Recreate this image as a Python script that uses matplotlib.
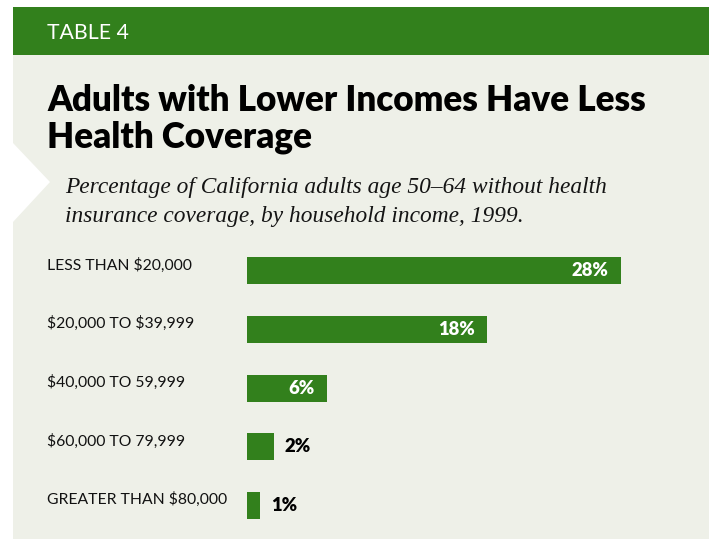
import matplotlib
matplotlib.use('Agg')
import matplotlib.pyplot as plt
from matplotlib.patches import Polygon, Rectangle
from matplotlib.transforms import blended_transform_factory

plt.rcParams['text.parse_math'] = False  # labels contain plain dollar signs

# data
categories = ['LESS THAN $20,000', '$20,000 TO $39,999', '$40,000 TO 59,999',
              '$60,000 TO 79,999', 'GREATER THAN $80,000']
values = [28, 18, 6, 2, 1]
value_labels = ['28%', '18%', '6%', '2%', '1%']

header_text = 'TABLE 4'
title_lines = ['Adults with Lower Incomes Have Less', 'Health Coverage']
subtitle_lines = ['Percentage of California adults age 50\u201364 without health',
                  'insurance coverage, by household income, 1999.']

GREEN = '#32801c'
BG = '#eef0e8'
SANS = ['Lato', 'DejaVu Sans']
SERIF = ['Liberation Serif', 'DejaVu Serif']

W, H = 715, 539
fig = plt.figure(figsize=(W / 100, H / 100), dpi=100)
fig.patch.set_facecolor('white')
renderer = fig.canvas.get_renderer()


def px(x, y):
    return (x / W, 1 - y / H)


def fit(t, width):
    # scale font size so the text is `width` pixels wide
    w = t.get_window_extent(renderer=renderer).width
    t.set_fontsize(t.get_fontsize() * width / w)
    return t.get_fontsize()


# panel with notch on the left, and green header
panel = Polygon([px(13, 55), px(709, 55), px(709, 539), px(13, 539),
                 px(13, 222), px(50, 182), px(13, 143)],
                closed=True, transform=fig.transFigure,
                facecolor=BG, edgecolor='none', zorder=-2)
fig.patches.append(panel)
header = Rectangle(px(13, 55), 696 / W, 48 / H, transform=fig.transFigure,
                   facecolor=GREEN, edgecolor='none', zorder=-1)
fig.patches.append(header)

t = fig.text(*px(47, 39), header_text, color='white', family=SANS,
             weight='normal', fontsize=16, va='baseline')
fit(t, 82)

t1 = fig.text(*px(47, 111), title_lines[0], color='black', family=SANS,
              weight='heavy', fontsize=23, va='baseline')
size = fit(t1, 598)
fig.text(*px(47, 147), title_lines[1], color='black', family=SANS,
         weight='heavy', fontsize=size, va='baseline')

s1 = fig.text(*px(65, 193), subtitle_lines[0], color='#141414', family=SERIF,
              style='italic', fontsize=18, va='baseline')
size = fit(s1, 542)
fig.text(*px(65, 222.5), subtitle_lines[1], color='#141414', family=SERIF,
         style='italic', fontsize=size, va='baseline')

# bars: 13.35 px per percent, rows 58.7 px apart
ax = fig.add_axes([247 / W, 1 - 535 / H, 400.5 / W, 293.4 / H])
ax.set_xlim(0, 30)
ax.set_ylim(len(values) - 0.5, -0.5)
ax.axis('off')
bar_h = 0.46
ax.barh(range(len(values)), values, height=bar_h, color=GREEN)

trans = blended_transform_factory(fig.transFigure, ax.transData)
cat_texts = []
for i, c in enumerate(categories):
    ct = ax.text(47 / W, i - bar_h / 2, c, transform=trans, family=SANS,
                 fontsize=12, va='top', ha='left', color='#111111')
    cat_texts.append(ct)
size = fit(cat_texts[-1], 180)
for ct in cat_texts:
    ct.set_fontsize(size)

val_texts = []
for i, (v, lab) in enumerate(zip(values, value_labels)):
    if v >= 5:
        vt = ax.annotate(lab, (v, i), xytext=(-12, 0), textcoords='offset pixels',
                         ha='right', va='center', color='white',
                         family=SANS, weight='heavy', fontsize=12)
    else:
        vt = ax.annotate(lab, (v, i), xytext=(11, 0), textcoords='offset pixels',
                         ha='left', va='center', color='black',
                         family=SANS, weight='heavy', fontsize=12)
    val_texts.append(vt)
size = fit(val_texts[0], 37)
for vt in val_texts:
    vt.set_fontsize(size)

fig.savefig('out.png', dpi=100, facecolor='white')
